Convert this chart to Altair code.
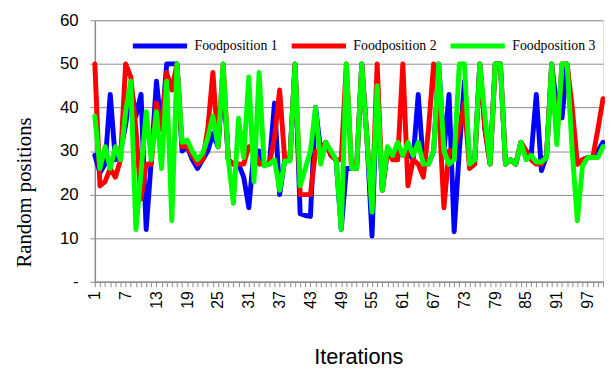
import altair as alt
import pandas as pd

iterations = list(range(1, 101))

food1 = [29, 25, 27, 43, 28, 30, 36, 45, 38, 43,
         12, 28, 46, 35, 50, 50, 50, 30, 31, 28,
         26, 28, 30, 34, 31, 47, 28, 27, 27, 24,
         17, 30, 30, 27, 27, 41, 20, 28, 28, 50,
         15.6, 15.2, 15, 40, 30, 32, 29, 28, 12, 26,
         26, 26, 50, 33, 10.5, 45, 21, 30, 29, 30,
         29, 30, 28, 43, 27, 27, 30, 50, 30, 43,
         11.5, 30, 46, 27, 28, 50, 35, 27, 50, 50,
         27, 28, 27, 32, 30, 29, 43, 25.5, 29, 50,
         40, 37.6, 50, 35, 27, 28, 28.5, 28.5, 30, 32]

food2 = [50, 22, 23, 26, 24, 28, 50, 47, 35, 19,
         27, 27, 41, 35, 48, 44, 50, 31, 31, 29,
         27, 28, 35, 48, 31, 50, 28, 27, 27, 27,
         31, 30, 27, 27, 27, 33, 44, 28, 28, 50,
         20, 20, 20, 30, 30, 32, 29, 28, 28, 50,
         26, 26, 50, 33, 17, 50, 21, 30, 28, 28,
         50, 22, 28, 27, 24, 35, 50, 40, 17, 30,
         30, 35, 41, 26, 27, 50, 35, 27, 50, 50,
         27, 28, 27, 32, 30, 28, 27, 27, 29, 50,
         33, 50, 50, 40, 27, 28, 28.5, 28.5, 35, 42]

food3 = [38, 26, 31, 26, 31, 28, 39, 46, 12, 25,
         39, 28, 39, 26, 46, 14, 50, 32, 32.5, 30,
         28, 29.5, 33, 38, 31, 50, 28, 18, 37.5, 28.5,
         47, 23, 48, 26.6, 27, 28, 21, 27.7, 27.7, 50,
         22, 26, 30, 40, 27, 32, 30, 28, 12, 50,
         26, 26, 50, 33, 16, 45, 21, 31, 29, 32,
         29, 32, 29, 32, 27, 27, 30, 50, 30, 27,
         28, 50, 50, 27, 28, 50, 38, 27, 50, 50,
         27, 28, 27, 32, 28, 29, 27.5, 27.5, 28.5, 50,
         31.5, 50, 50, 30, 14, 26.6, 28.5, 28.5, 28.5, 31]

series_names = ["Foodposition 1", "Foodposition 2", "Foodposition 3"]
series_colors = ["#0000FF", "#FF0000", "#00FF00"]
y_ticks = [0, 10, 20, 30, 40, 50, 60]

rows = []
for name, vals in zip(series_names, [food1, food2, food3]):
    for it, v in zip(iterations, vals):
        rows.append({"Iteration": it, "Value": v, "Series": name})
df = pd.DataFrame(rows)

grey = "#8c8c8c"

chart = alt.Chart(df).mark_line(
    strokeWidth=5, strokeJoin="round", strokeCap="round"
).encode(
    x=alt.X(
        "Iteration:Q",
        scale=alt.Scale(domain=[1, 100], nice=False, zero=False),
        axis=alt.Axis(
            values=iterations,
            labelExpr="(datum.value - 1) % 6 == 0 && datum.value <= 97 ? datum.label : ''",
            labelAngle=-90,
            labelOverlap=False,
            labelBound=False,
            labelFont="Liberation Sans",
            labelFontSize=16,
            labelColor="#000000",
            labelPadding=4,
            tickSize=5,
            tickColor=grey,
            domainColor=grey,
            domainWidth=1.5,
            grid=False,
            title="Iterations",
            titleFont="Liberation Sans",
            titleFontSize=22,
            titleFontWeight="normal",
            titleColor="#000000",
            titleX=267,
            titleY=76,
            titleBaseline="middle",
        ),
    ),
    y=alt.Y(
        "Value:Q",
        scale=alt.Scale(domain=[0, 60], nice=False),
        axis=alt.Axis(
            values=y_ticks,
            labelExpr="datum.value == 0 ? '-\u00a0\u00a0\u00a0\u00a0' : datum.label",
            labelFont="Liberation Sans",
            labelFontSize=17,
            labelColor="#000000",
            labelPadding=12,
            tickSize=5,
            tickColor=grey,
            domainColor=grey,
            domainWidth=1.5,
            grid=True,
            gridColor=grey,
            gridWidth=1,
            title="Random positions",
            titleFont="Liberation Serif",
            titleFontSize=21,
            titleFontWeight="normal",
            titleColor="#000000",
            titleX=-71,
            titleY=174,
            titleBaseline="middle",
        ),
    ),
    color=alt.Color(
        "Series:N",
        scale=alt.Scale(domain=series_names, range=series_colors),
        legend=alt.Legend(
            title=None,
            orient="none",
            legendX=36,
            legendY=-4,
            direction="horizontal",
            symbolType="stroke",
            symbolSize=3025,
            symbolStrokeWidth=5,
            labelFont="Liberation Serif",
            labelFontSize=14,
            labelColor="#000000",
            labelOffset=5,
            columnPadding=3,
            labelLimit=200,
        ),
    ),
).properties(
    width=515,
    height=265,
    autosize=alt.AutoSizeParams(type="none"),
    padding={"left": 88, "top": 10, "right": 2, "bottom": 90},
).configure_view(
    stroke=None
).configure(
    background="#ffffff"
)

chart.save("out.html", embed_options={"renderer": "svg", "actions": False})
